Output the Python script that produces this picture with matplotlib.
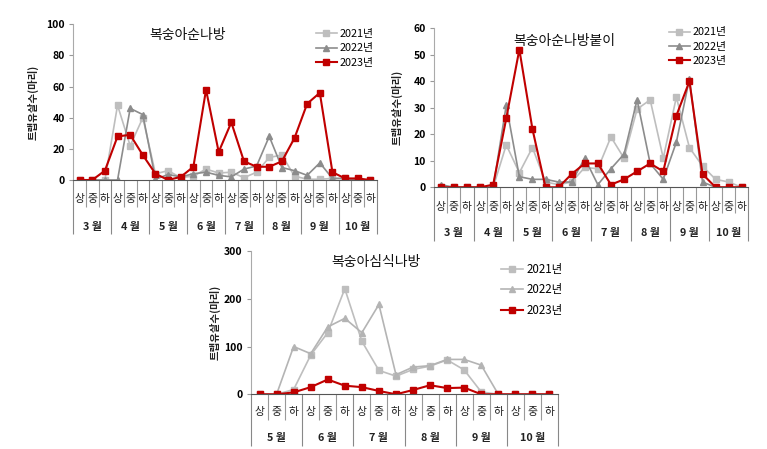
import numpy as np
import matplotlib
matplotlib.use('Agg')
import matplotlib.pyplot as plt

plt.rcParams['font.family'] = ['Noto Sans CJK KR', 'DejaVu Sans']

years = ['2021년', '2022년', '2023년']
sub = ['상', '중', '하']
months1 = ['3 월', '4 월', '5 월', '6 월', '7 월', '8 월', '9 월', '10 월']
months3 = ['5 월', '6 월', '7 월', '8 월', '9 월', '10 월']

# 복숭아순나방
c1_2021 = [0, 0, 0, 48, 22, 40, 4, 6, 1.5, 2.5, 7, 4.5, 5, 1.5, 5, 14.5, 16, 2.5, 0.5, 0.5, 1, 1, 0.5, 0]
c1_2022 = [0, 0, 0, 0, 46, 42, 0.5, 3.5, 2, 4, 5, 3, 2, 7, 9, 28, 8, 6, 3, 11, 1, 1, 0, 0]
c1_2023 = [0, 0, 6, 28, 29, 16, 4, 0, 2, 8.5, 58, 18, 37, 12, 8.5, 8.5, 12, 27, 49, 56, 5, 1, 1, 0]

# 복숭아순나방붙이
c2_2021 = [0, 0, 0, 0, 0, 16, 5.5, 15, 2, 1, 2, 7.5, 7, 19, 11, 29.5, 33, 11, 34, 15, 8, 3, 2, 0]
c2_2022 = [1, 0, 0, 0, 0, 31, 4, 3, 3, 2, 2, 11, 1, 7, 12.5, 33, 9, 3, 17, 41, 2, 0, 0, 0]
c2_2023 = [0, 0, 0, 0, 1, 26, 52, 22, 0, 0, 5, 9, 9, 1, 3, 6, 9, 6, 27, 40, 5, 0, 0, 0]

# 복숭아심식나방
c3_2021 = [0, 0, 10, 82, 129, 221, 111, 50, 38, 52, 59, 72, 51, 5, 0, 0, 0, 0]
c3_2022 = [0, 0, 100, 85, 141, 159, 129, 188, 41, 57, 60, 73, 73, 61, 0, 0, 0, 0]
c3_2023 = [0, 0, 4, 15, 31, 18, 15, 7, 0, 9, 19, 13, 14, 0, 0, 0, 0, 0]

W, H = 767, 449
fig = plt.figure(figsize=(W / 100, H / 100), dpi=100)

red = '#C00000'
pt = 72 / 100.0  # points per pixel


def panel(box, title, title_xy, series, gray2, months, ymax, ystep,
          cat_off, mon_off, inner_len, mon_len, leg_xy, leg_sp, leg_fs, ylab_x):
    l, t, r, b = box
    ax = fig.add_axes([l / W, 1 - b / H, (r - l) / W, (b - t) / H])
    n = len(series[0])
    x = np.arange(n)
    ax.plot(x, series[0], color='#BEBEBE', lw=1.2, marker='s', ms=4.4,
            label=years[0])
    ax.plot(x, series[1], color=gray2, lw=1.2, marker='^', ms=4.8,
            label=years[1])
    ax.plot(x, series[2], color=red, lw=1.5, marker='s', ms=4.8,
            label=years[2])
    ax.set_xlim(-0.5, n - 0.5)
    ax.set_ylim(0, ymax)
    ax.set_yticks(np.arange(0, ymax + 1, ystep))
    ax.tick_params(axis='y', length=3, color='#999999', labelsize=7.5,
                   pad=3)
    for lab in ax.get_yticklabels():
        lab.set_fontweight('bold')
    for s in ['top', 'right']:
        ax.spines[s].set_visible(False)
    ax.spines['left'].set_color('#AAAAAA')
    ax.spines['bottom'].set_color('#555555')

    # multi-level category axis
    mb = np.arange(-0.5, n, 3)
    ib = np.arange(-0.5, n + 0.5, 1)
    ax.set_xticks(mb)
    ax.set_xticklabels([])
    ax.set_xticks([v for v in ib if v not in mb], minor=True)
    ax.tick_params(axis='x', which='major', length=mon_len * pt,
                   color='#888888', width=0.8)
    ax.tick_params(axis='x', which='minor', length=inner_len * pt,
                   color='#999999', width=0.8)
    for i in range(n):
        ax.annotate(sub[i % 3], xy=(i, 0), xycoords=('data', 'axes fraction'),
                    xytext=(0, -cat_off * pt), textcoords='offset points',
                    ha='center', va='center', fontsize=7.8, color='#222222',
                    annotation_clip=False)
    for k, m in enumerate(months):
        ax.annotate(m, xy=(3 * k + 1, 0), xycoords=('data', 'axes fraction'),
                    xytext=(0, -mon_off * pt), textcoords='offset points',
                    ha='center', va='center', fontsize=7.8, fontweight='bold',
                    color='#222222', annotation_clip=False)

    fig.text(title_xy[0] / W, 1 - title_xy[1] / H, title, ha='center',
             va='center', fontsize=10, color='#111111')
    fig.text(ylab_x / W, 1 - (t + b) / 2 / H, '트랩유살수(마리)', rotation=90,
             ha='center', va='center', fontsize=7.5, fontweight='bold',
             color='#222222')
    ax.legend(loc='upper left', bbox_to_anchor=(leg_xy[0] / W, 1 - leg_xy[1] / H),
              bbox_transform=fig.transFigure, frameon=False, fontsize=leg_fs,
              handlelength=1.9, handletextpad=0.3, borderpad=0,
              borderaxespad=0, labelspacing=leg_sp)
    return ax


panel((73.3, 24.3, 376.7, 180), '복숭아순나방', (188, 35),
      [c1_2021, c1_2022, c1_2023], '#8C8C8C', months1, 100, 20,
      19.3, 46.7, 26.7, 54, (316, 28.5), 0.45, 7.8, 33)

panel((434.3, 28.3, 748.3, 187.3), '복숭아순나방붙이', (564, 40.7),
      [c2_2021, c2_2022, c2_2023], '#8C8C8C', months1, 60, 10,
      19.4, 45.4, 26, 54, (669, 27.5), 0.4, 7.8, 397)

panel((251, 251, 558, 394.3), '복숭아심식나방', (376, 261.7),
      [c3_2021, c3_2022, c3_2023], '#B4B4B4', months3, 300, 100,
      17.7, 43.7, 25.7, 52, (501, 263), 0.65, 8.3, 215)

fig.savefig('out.png', dpi=100)
